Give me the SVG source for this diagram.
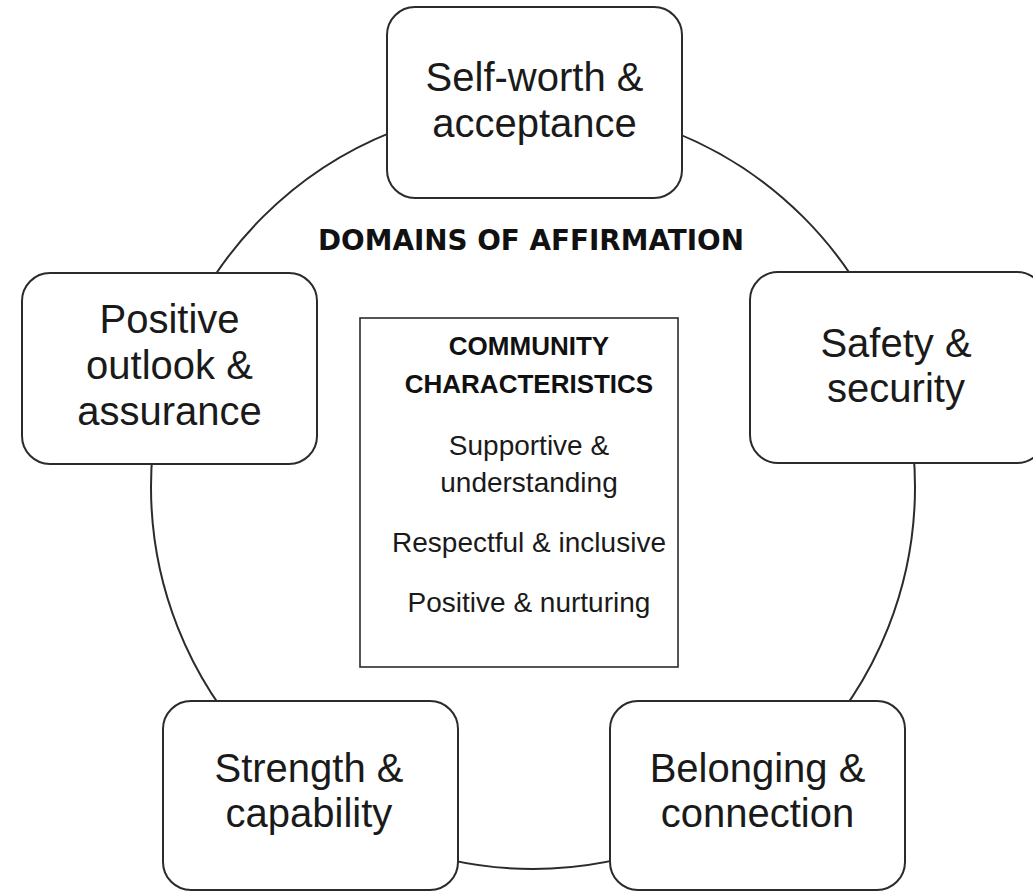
<svg xmlns="http://www.w3.org/2000/svg" width="1033" height="892" viewBox="0 0 1033 892">
<style>
.node rect{fill:#fff;stroke:#2b2b2b;stroke-width:2}
.lbl{font-family:"Liberation Sans",Arial,sans-serif;font-size:40px;fill:#1a1a1a;text-anchor:middle}
.ctr{font-family:"Liberation Sans",Arial,sans-serif;font-size:28px;fill:#1a1a1a;text-anchor:middle}
.ctrb{font-family:"Liberation Sans",Arial,sans-serif;font-size:26px;font-weight:bold;fill:#111;text-anchor:middle}
.title{font-family:"DejaVu Sans",Verdana,sans-serif;font-size:27.8px;font-weight:bold;fill:#111;text-anchor:middle}
.conn{fill:none;stroke:#2b2b2b;stroke-width:2}
</style>
<rect width="1033" height="892" fill="#fff"/>
<g id="connectors">
<circle class="conn" cx="533" cy="487" r="382"/>
</g>
<text class="title" x="531" y="250">DOMAINS OF AFFIRMATION</text>
<g id="community">
<rect x="360" y="318" width="318" height="349" fill="#fff" stroke="#2b2b2b" stroke-width="1.6"/>
<text class="ctrb" x="529" y="355">COMMUNITY</text>
<text class="ctrb" x="529" y="393">CHARACTERISTICS</text>
<text class="ctr" x="529" y="455">Supportive &amp;</text>
<text class="ctr" x="529" y="492">understanding</text>
<text class="ctr" x="529" y="552">Respectful &amp; inclusive</text>
<text class="ctr" x="529" y="612">Positive &amp; nurturing</text>
</g>
<g id="self-worth" class="node">
<rect x="387" y="7" width="295" height="191" rx="28"/>
<text class="lbl" x="534.5" y="91">Self-worth &amp;</text>
<text class="lbl" x="534.5" y="137">acceptance</text>
</g>
<g id="positive-outlook" class="node">
<rect x="22" y="273" width="295" height="191" rx="28"/>
<text class="lbl" x="169.5" y="333">Positive</text>
<text class="lbl" x="169.5" y="379">outlook &amp;</text>
<text class="lbl" x="169.5" y="425">assurance</text>
</g>
<g id="safety" class="node">
<rect x="750" y="272" width="295" height="191" rx="28"/>
<text class="lbl" x="896" y="357">Safety &amp;</text>
<text class="lbl" x="896" y="402">security</text>
</g>
<g id="strength" class="node">
<rect x="163" y="701" width="295" height="189" rx="28"/>
<text class="lbl" x="309" y="782">Strength &amp;</text>
<text class="lbl" x="309" y="827">capability</text>
</g>
<g id="belonging" class="node">
<rect x="610" y="701" width="295" height="189" rx="28"/>
<text class="lbl" x="757.5" y="782">Belonging &amp;</text>
<text class="lbl" x="757.5" y="827">connection</text>
</g>
</svg>
